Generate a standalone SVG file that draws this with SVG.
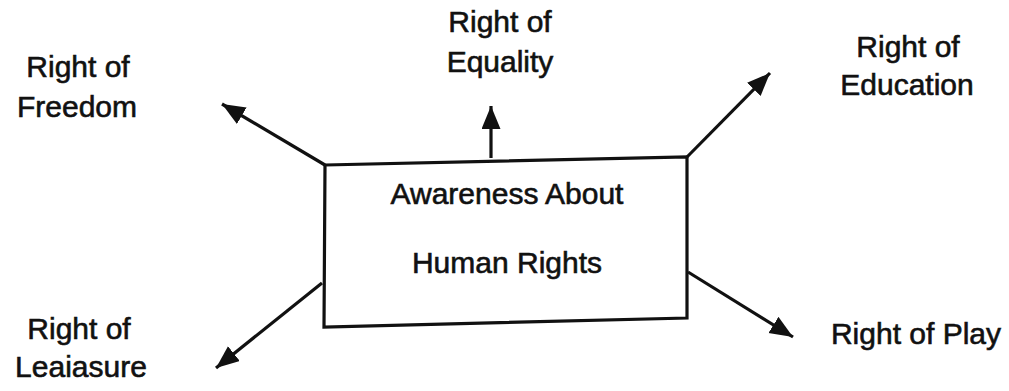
<svg xmlns="http://www.w3.org/2000/svg" width="1009" height="391" viewBox="0 0 1009 391">
<style>
  .lbl { font-family: "Liberation Sans", Arial, sans-serif; font-size: 30px; fill: #111; stroke: #111; stroke-width: 0.6; text-anchor: middle; }
  .edge { stroke: #111; stroke-width: 3.2; fill: none; marker-end: url(#ah); }
  .box { fill: #fff; stroke: #111; stroke-width: 3.2; stroke-linejoin: miter; }
</style>
<defs>
  <marker id="ah" markerUnits="userSpaceOnUse" markerWidth="24" markerHeight="20" refX="23" refY="9.5" orient="auto">
    <path d="M0,0 L23,9.5 L0,19 z" fill="#111"/>
  </marker>
</defs>
<rect width="1009" height="391" fill="#fff"/>
<g id="connectors">
  <line class="edge" x1="325" y1="165" x2="222" y2="104"/>
  <line class="edge" x1="491" y1="158" x2="491" y2="106"/>
  <line class="edge" x1="687" y1="157" x2="770" y2="73"/>
  <line class="edge" x1="322" y1="283" x2="216" y2="368"/>
  <line class="edge" x1="688" y1="272" x2="793" y2="337"/>
</g>
<g id="center">
  <polygon class="box" points="325,165 687,157 687,318 324,327"/>
  <text class="lbl" x="507" y="204">Awareness About</text>
  <text class="lbl" x="507" y="273">Human Rights</text>
</g>
<g id="freedom">
  <text class="lbl" x="78" y="77">Right of</text>
  <text class="lbl" x="77" y="117">Freedom</text>
</g>
<g id="equality">
  <text class="lbl" x="500" y="32">Right of</text>
  <text class="lbl" x="500" y="72">Equality</text>
</g>
<g id="education">
  <text class="lbl" x="908" y="57">Right of</text>
  <text class="lbl" x="907" y="95">Education</text>
</g>
<g id="leisure">
  <text class="lbl" x="79" y="339">Right of</text>
  <text class="lbl" x="81" y="377">Leaiasure</text>
</g>
<g id="play">
  <text class="lbl" x="916" y="344">Right of Play</text>
</g>
</svg>
